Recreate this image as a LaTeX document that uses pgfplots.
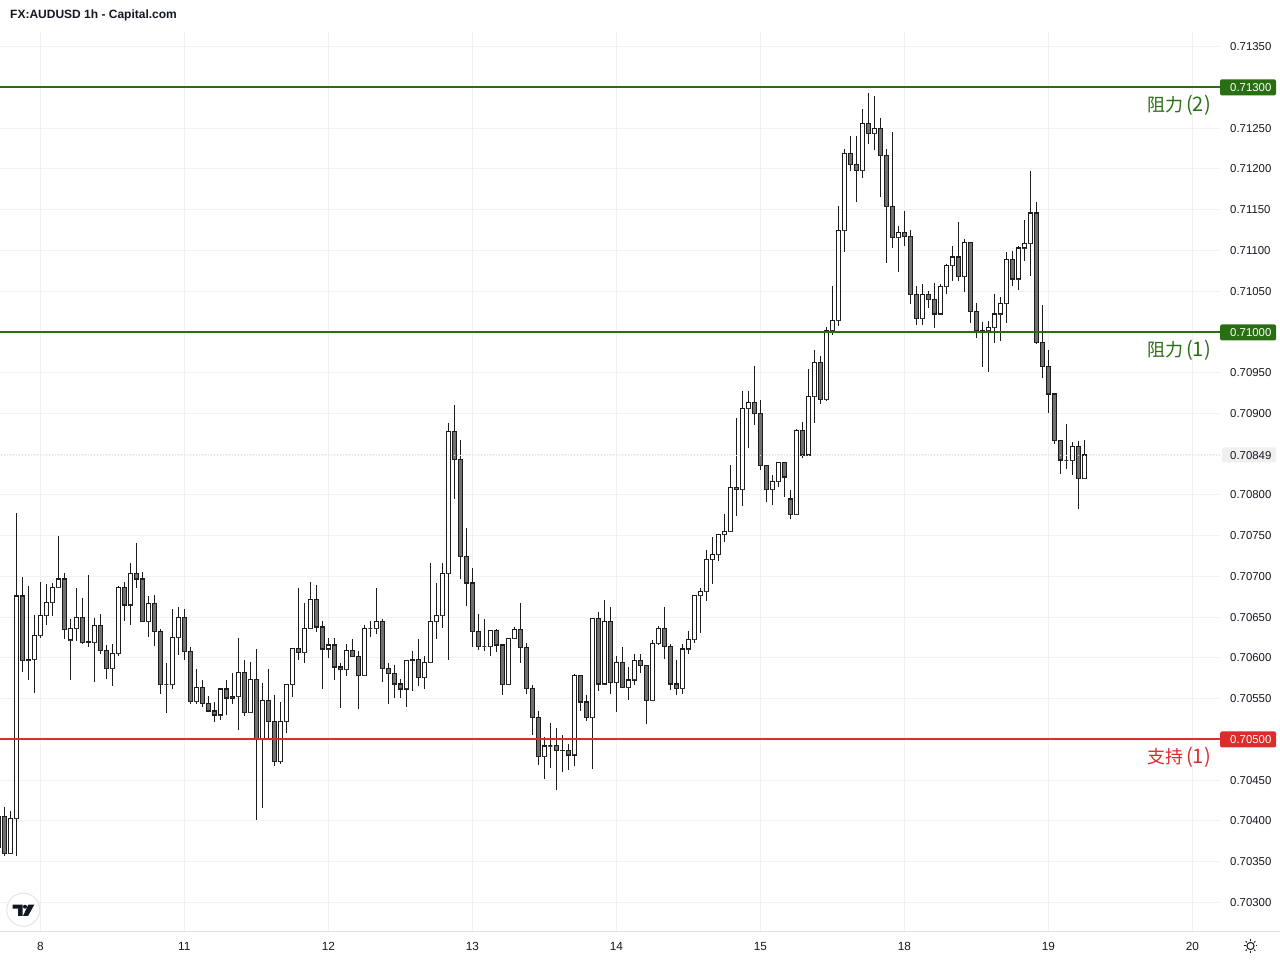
\documentclass[border=0pt]{standalone}
\usepackage{fontspec}
\usepackage{pgfplots}
\pgfplotsset{compat=1.18}
\usepgfplotslibrary{statistics}
\setmainfont{Liberation Sans}
\newfontfamily\cjk{Noto Sans CJK SC}
\definecolor{cgreen}{HTML}{2A6E14}
\definecolor{cred}{HTML}{DD2C2C}
\definecolor{cgrid}{HTML}{F1F1F4}
\definecolor{cdown}{HTML}{707070}
\definecolor{cedge}{HTML}{1C1C1C}
\definecolor{ctext}{HTML}{131722}
\newcommand{\cndU}[5]{\addplot[draw=cedge,fill=white,line width=1.15pt,boxplot prepared={draw position=#1,lower whisker=#4,lower quartile=#2,median=#2,upper quartile=#5,upper whisker=#3}] coordinates {};}
\newcommand{\cndD}[5]{\addplot[draw=cedge,fill=cdown,line width=1.15pt,boxplot prepared={draw position=#1,lower whisker=#4,lower quartile=#5,median=#5,upper quartile=#2,upper whisker=#3}] coordinates {};}
\begin{document}
\begin{tikzpicture}[x=1pt,y=1pt]
\path[use as bounding box] (0,0) rectangle (1280,960);
\fill[white] (0,0) rectangle (1280,960);
\begin{axis}[
  at={(0pt,28pt)}, anchor=south west, scale only axis, width=1220pt, height=900pt,
  xmin=-0.7222, xmax=202.611, ymin=0.702638, ymax=0.713681,
  axis line style={draw=none}, major tick length=0pt,
  xtick={6,30,54,78,102,126,150,174,198},
  xticklabels={8,11,12,13,14,15,18,19,20},
  ytick={0.7030,0.7035,0.7040,0.7045,0.7050,0.7055,0.7060,0.7065,0.7070,0.7075,0.7080,0.7085,0.7090,0.7095,0.7100,0.7105,0.7110,0.7115,0.7120,0.7125,0.7130,0.7135},
  yticklabels={0.70300,0.70350,0.70400,0.70450,{},0.70550,0.70600,0.70650,0.70700,0.70750,0.70800,{},0.70900,0.70950,{},0.71050,0.71100,0.71150,0.71200,0.71250,{},0.71350},
  ytick pos=right, yticklabel pos=right,
  yticklabel style={anchor=west,inner sep=0pt,xshift=10pt,font=\fontsize{11.4pt}{13pt}\selectfont,text=ctext},
  xticklabel style={anchor=center,inner sep=0pt,yshift=-14.4pt,font=\fontsize{11.8pt}{13pt}\selectfont,text=ctext},
  grid=major, grid style={draw=cgrid,line width=1pt},
  boxplot/draw direction=y, boxplot/box extend=0.667, boxplot/whisker extend=0,
  boxplot/every median/.style={draw=none},
]
\cndU{-1}{0.70368}{0.70416}{0.70357}{0.70406}
\cndD{0}{0.70405}{0.70417}{0.70357}{0.70360}
\cndU{1}{0.70360}{0.70412}{0.70360}{0.70403}
\cndU{2}{0.70403}{0.70778}{0.70357}{0.70676}
\cndD{3}{0.70676}{0.70699}{0.70583}{0.70597}
\cndD{4}{0.70598}{0.70688}{0.70573}{0.70597}
\cndU{5}{0.70598}{0.70653}{0.70557}{0.70628}
\cndU{6}{0.70628}{0.70693}{0.70624}{0.70652}
\cndU{7}{0.70652}{0.70691}{0.70640}{0.70668}
\cndU{8}{0.70668}{0.70692}{0.70652}{0.70686}
\cndU{9}{0.70686}{0.70750}{0.70686}{0.70697}
\cndD{10}{0.70697}{0.70704}{0.70623}{0.70635}
\cndU{11}{0.70622}{0.70648}{0.70573}{0.70636}
\cndU{12}{0.70636}{0.70686}{0.70621}{0.70650}
\cndD{13}{0.70650}{0.70674}{0.70618}{0.70619}
\cndD{14}{0.70620}{0.70702}{0.70614}{0.70619}
\cndU{15}{0.70619}{0.70649}{0.70570}{0.70640}
\cndD{16}{0.70640}{0.70654}{0.70605}{0.70609}
\cndD{17}{0.70609}{0.70616}{0.70574}{0.70587}
\cndU{18}{0.70587}{0.70617}{0.70566}{0.70605}
\cndU{19}{0.70605}{0.70688}{0.70602}{0.70686}
\cndD{20}{0.70686}{0.70693}{0.70646}{0.70665}
\cndU{21}{0.70665}{0.70716}{0.70641}{0.70704}
\cndD{22}{0.70704}{0.70741}{0.70686}{0.70697}
\cndD{23}{0.70697}{0.70706}{0.70645}{0.70645}
\cndU{24}{0.70645}{0.70676}{0.70626}{0.70667}
\cndD{25}{0.70667}{0.70677}{0.70615}{0.70632}
\cndD{26}{0.70632}{0.70636}{0.70556}{0.70567}
\cndU{27}{0.70567}{0.70594}{0.70533}{0.70567}
\cndU{28}{0.70567}{0.70660}{0.70562}{0.70625}
\cndU{29}{0.70625}{0.70663}{0.70604}{0.70650}
\cndD{30}{0.70650}{0.70660}{0.70598}{0.70608}
\cndD{31}{0.70608}{0.70613}{0.70543}{0.70547}
\cndU{32}{0.70547}{0.70586}{0.70544}{0.70564}
\cndD{33}{0.70564}{0.70573}{0.70540}{0.70544}
\cndD{34}{0.70544}{0.70553}{0.70535}{0.70535}
\cndD{35}{0.70535}{0.70546}{0.70521}{0.70530}
\cndU{36}{0.70530}{0.70562}{0.70524}{0.70562}
\cndD{37}{0.70562}{0.70573}{0.70530}{0.70551}
\cndU{38}{0.70551}{0.70582}{0.70544}{0.70553}
\cndU{39}{0.70553}{0.70624}{0.70512}{0.70582}
\cndD{40}{0.70582}{0.70598}{0.70529}{0.70533}
\cndU{41}{0.70533}{0.70595}{0.70533}{0.70574}
\cndD{42}{0.70574}{0.70611}{0.70401}{0.70501}
\cndU{43}{0.70501}{0.70569}{0.70416}{0.70548}
\cndD{44}{0.70548}{0.70586}{0.70501}{0.70522}
\cndD{45}{0.70522}{0.70555}{0.70468}{0.70473}
\cndU{46}{0.70473}{0.70546}{0.70470}{0.70522}
\cndU{47}{0.70522}{0.70568}{0.70508}{0.70567}
\cndU{48}{0.70567}{0.70612}{0.70552}{0.70612}
\cndD{49}{0.70612}{0.70686}{0.70598}{0.70607}
\cndU{50}{0.70607}{0.70668}{0.70594}{0.70636}
\cndU{51}{0.70636}{0.70693}{0.70636}{0.70672}
\cndD{52}{0.70672}{0.70690}{0.70632}{0.70638}
\cndD{53}{0.70638}{0.70646}{0.70562}{0.70611}
\cndU{54}{0.70611}{0.70625}{0.70600}{0.70616}
\cndD{55}{0.70616}{0.70624}{0.70573}{0.70589}
\cndD{56}{0.70589}{0.70594}{0.70539}{0.70586}
\cndU{57}{0.70586}{0.70617}{0.70578}{0.70609}
\cndD{58}{0.70609}{0.70623}{0.70602}{0.70602}
\cndD{59}{0.70602}{0.70609}{0.70537}{0.70578}
\cndU{60}{0.70578}{0.70640}{0.70578}{0.70636}
\cndU{61}{0.70636}{0.70645}{0.70626}{0.70636}
\cndU{62}{0.70636}{0.70686}{0.70630}{0.70645}
\cndD{63}{0.70645}{0.70648}{0.70571}{0.70587}
\cndD{64}{0.70587}{0.70594}{0.70543}{0.70581}
\cndD{65}{0.70581}{0.70592}{0.70551}{0.70568}
\cndD{66}{0.70568}{0.70574}{0.70551}{0.70562}
\cndU{67}{0.70562}{0.70598}{0.70540}{0.70597}
\cndD{68}{0.70598}{0.70609}{0.70559}{0.70597}
\cndD{69}{0.70598}{0.70623}{0.70566}{0.70576}
\cndU{70}{0.70576}{0.70602}{0.70562}{0.70594}
\cndU{71}{0.70594}{0.70716}{0.70594}{0.70645}
\cndU{72}{0.70645}{0.70692}{0.70623}{0.70652}
\cndU{73}{0.70652}{0.70716}{0.70637}{0.70704}
\cndU{74}{0.70704}{0.70888}{0.70598}{0.70878}
\cndD{75}{0.70878}{0.70911}{0.70795}{0.70844}
\cndD{76}{0.70844}{0.70868}{0.70697}{0.70725}
\cndD{77}{0.70725}{0.70759}{0.70664}{0.70692}
\cndD{78}{0.70692}{0.70711}{0.70614}{0.70632}
\cndD{79}{0.70632}{0.70654}{0.70610}{0.70614}
\cndU{80}{0.70614}{0.70648}{0.70608}{0.70614}
\cndU{81}{0.70614}{0.70634}{0.70602}{0.70634}
\cndD{82}{0.70634}{0.70636}{0.70607}{0.70616}
\cndD{83}{0.70616}{0.70616}{0.70554}{0.70567}
\cndU{84}{0.70567}{0.70625}{0.70567}{0.70624}
\cndU{85}{0.70624}{0.70638}{0.70623}{0.70635}
\cndD{86}{0.70635}{0.70667}{0.70594}{0.70613}
\cndD{87}{0.70613}{0.70618}{0.70556}{0.70563}
\cndD{88}{0.70563}{0.70567}{0.70505}{0.70527}
\cndD{89}{0.70527}{0.70535}{0.70469}{0.70479}
\cndU{90}{0.70479}{0.70503}{0.70452}{0.70492}
\cndU{91}{0.70492}{0.70520}{0.70465}{0.70492}
\cndD{92}{0.70493}{0.70514}{0.70438}{0.70487}
\cndD{93}{0.70487}{0.70505}{0.70460}{0.70486}
\cndD{94}{0.70486}{0.70495}{0.70463}{0.70481}
\cndU{95}{0.70481}{0.70580}{0.70467}{0.70578}
\cndD{96}{0.70578}{0.70578}{0.70535}{0.70546}
\cndD{97}{0.70546}{0.70555}{0.70523}{0.70527}
\cndU{98}{0.70527}{0.70649}{0.70464}{0.70648}
\cndD{99}{0.70648}{0.70657}{0.70560}{0.70568}
\cndU{100}{0.70568}{0.70671}{0.70568}{0.70645}
\cndD{101}{0.70645}{0.70662}{0.70556}{0.70570}
\cndU{102}{0.70570}{0.70602}{0.70534}{0.70594}
\cndD{103}{0.70594}{0.70613}{0.70563}{0.70564}
\cndU{104}{0.70564}{0.70589}{0.70548}{0.70573}
\cndU{105}{0.70573}{0.70605}{0.70567}{0.70597}
\cndD{106}{0.70597}{0.70605}{0.70582}{0.70591}
\cndD{107}{0.70591}{0.70591}{0.70519}{0.70548}
\cndU{108}{0.70548}{0.70622}{0.70548}{0.70618}
\cndU{109}{0.70618}{0.70639}{0.70616}{0.70636}
\cndD{110}{0.70636}{0.70662}{0.70599}{0.70614}
\cndD{111}{0.70614}{0.70617}{0.70561}{0.70568}
\cndD{112}{0.70568}{0.70598}{0.70554}{0.70563}
\cndU{113}{0.70563}{0.70617}{0.70556}{0.70611}
\cndU{114}{0.70611}{0.70633}{0.70605}{0.70623}
\cndU{115}{0.70623}{0.70677}{0.70618}{0.70677}
\cndU{116}{0.70677}{0.70686}{0.70631}{0.70682}
\cndU{117}{0.70682}{0.70732}{0.70670}{0.70721}
\cndU{118}{0.70721}{0.70749}{0.70691}{0.70727}
\cndU{119}{0.70727}{0.70752}{0.70719}{0.70751}
\cndU{120}{0.70751}{0.70777}{0.70742}{0.70755}
\cndU{121}{0.70755}{0.70837}{0.70755}{0.70809}
\cndD{122}{0.70809}{0.70895}{0.70774}{0.70807}
\cndU{123}{0.70807}{0.70927}{0.70787}{0.70906}
\cndU{124}{0.70906}{0.70927}{0.70858}{0.70913}
\cndD{125}{0.70913}{0.70958}{0.70886}{0.70900}
\cndD{126}{0.70900}{0.70917}{0.70831}{0.70836}
\cndD{127}{0.70836}{0.70836}{0.70791}{0.70807}
\cndU{128}{0.70807}{0.70825}{0.70788}{0.70817}
\cndU{129}{0.70817}{0.70841}{0.70810}{0.70840}
\cndD{130}{0.70840}{0.70841}{0.70798}{0.70822}
\cndD{131}{0.70795}{0.70806}{0.70770}{0.70776}
\cndU{132}{0.70776}{0.70881}{0.70776}{0.70879}
\cndD{133}{0.70879}{0.70889}{0.70845}{0.70849}
\cndU{134}{0.70849}{0.70954}{0.70849}{0.70921}
\cndU{135}{0.70921}{0.70978}{0.70888}{0.70963}
\cndD{136}{0.70963}{0.70971}{0.70912}{0.70917}
\cndU{137}{0.70917}{0.71006}{0.70915}{0.71002}
\cndU{138}{0.71002}{0.71057}{0.70996}{0.71014}
\cndU{139}{0.71014}{0.71154}{0.71007}{0.71125}
\cndU{140}{0.71125}{0.71225}{0.71098}{0.71219}
\cndD{141}{0.71219}{0.71240}{0.71198}{0.71205}
\cndD{142}{0.71205}{0.71240}{0.71159}{0.71198}
\cndU{143}{0.71198}{0.71274}{0.71189}{0.71256}
\cndD{144}{0.71256}{0.71293}{0.71231}{0.71244}
\cndU{145}{0.71244}{0.71289}{0.71223}{0.71250}
\cndD{146}{0.71250}{0.71263}{0.71166}{0.71217}
\cndD{147}{0.71217}{0.71225}{0.71085}{0.71154}
\cndD{148}{0.71154}{0.71245}{0.71103}{0.71116}
\cndU{149}{0.71116}{0.71130}{0.71073}{0.71122}
\cndD{150}{0.71122}{0.71149}{0.71105}{0.71117}
\cndD{151}{0.71117}{0.71125}{0.71034}{0.71046}
\cndD{152}{0.71046}{0.71056}{0.71009}{0.71017}
\cndU{153}{0.71017}{0.71059}{0.71009}{0.71046}
\cndD{154}{0.71046}{0.71050}{0.71030}{0.71040}
\cndD{155}{0.71040}{0.71060}{0.71005}{0.71022}
\cndU{156}{0.71022}{0.71059}{0.71022}{0.71056}
\cndU{157}{0.71056}{0.71083}{0.71047}{0.71082}
\cndU{158}{0.71082}{0.71106}{0.71063}{0.71092}
\cndD{159}{0.71092}{0.71135}{0.71063}{0.71068}
\cndU{160}{0.71068}{0.71114}{0.71049}{0.71110}
\cndD{161}{0.71110}{0.71111}{0.71011}{0.71025}
\cndD{162}{0.71025}{0.71035}{0.70993}{0.71002}
\cndD{163}{0.71002}{0.71012}{0.70957}{0.71001}
\cndU{164}{0.71002}{0.71013}{0.70951}{0.71005}
\cndU{165}{0.71005}{0.71046}{0.70987}{0.71022}
\cndU{166}{0.71022}{0.71043}{0.70989}{0.71035}
\cndU{167}{0.71035}{0.71098}{0.71011}{0.71089}
\cndD{168}{0.71089}{0.71099}{0.71057}{0.71065}
\cndU{169}{0.71065}{0.71105}{0.71052}{0.71103}
\cndU{170}{0.71103}{0.71138}{0.71087}{0.71109}
\cndU{171}{0.71109}{0.71197}{0.71069}{0.71146}
\cndD{172}{0.71146}{0.71159}{0.70985}{0.70987}
\cndD{173}{0.70987}{0.71033}{0.70943}{0.70958}
\cndD{174}{0.70958}{0.70978}{0.70901}{0.70924}
\cndD{175}{0.70924}{0.70925}{0.70863}{0.70867}
\cndD{176}{0.70867}{0.70868}{0.70826}{0.70843}
\cndU{177}{0.70842}{0.70887}{0.70832}{0.70842}
\cndU{178}{0.70842}{0.70865}{0.70824}{0.70859}
\cndD{179}{0.70859}{0.70866}{0.70783}{0.70820}
\cndU{180}{0.70820}{0.70868}{0.70820}{0.70849}
\addplot[draw=cgreen,line width=2pt] coordinates {(-1,0.71300)(203,0.71300)};
\addplot[draw=cgreen,line width=2pt] coordinates {(-1,0.71000)(203,0.71000)};
\addplot[draw=cred,line width=2pt] coordinates {(-1,0.70500)(203,0.70500)};
\addplot[draw=white!88!black,line width=1pt,dash pattern=on 1pt off 2pt] coordinates {(-1,0.70849)(203,0.70849)};
\end{axis}
% bottom rule
\draw[draw=black!12,line width=1pt] (0,28) -- (1280,28);
% title
\node[anchor=west,inner sep=0pt,text=ctext,font=\bfseries\fontsize{12pt}{14pt}\selectfont] at (10,944.5) {FX:AUDUSD 1h - Capital.com};
% price tags
\fill[cgreen,rounded corners=1.5pt] (1220,880.5) rectangle (1276,864.5);
\node[anchor=west,inner sep=0pt,text=white,font=\fontsize{11.4pt}{13pt}\selectfont] at (1230,872.5) {0.71300};
\fill[cgreen,rounded corners=1.5pt] (1220,635.5) rectangle (1276,619.5);
\node[anchor=west,inner sep=0pt,text=white,font=\fontsize{11.4pt}{13pt}\selectfont] at (1230,627.5) {0.71000};
\fill[cred,rounded corners=1.5pt] (1220,228.5) rectangle (1276,212.5);
\node[anchor=west,inner sep=0pt,text=white,font=\fontsize{11.4pt}{13pt}\selectfont] at (1230,220.5) {0.70500};
\fill[black!6,rounded corners=1.5pt] (1222,512.5) rectangle (1276,497.5);
\node[anchor=west,inner sep=0pt,text=ctext,font=\fontsize{11.4pt}{13pt}\selectfont] at (1230,504.6) {0.70849};
% level labels
\node[anchor=west,inner sep=0pt,text=cgreen,font=\cjk\fontsize{18pt}{20pt}\selectfont] at (1147,854.5) {阻力\hspace{3pt}{\fontsize{20pt}{20pt}\selectfont(2)}};
\node[anchor=west,inner sep=0pt,text=cgreen,font=\cjk\fontsize{18pt}{20pt}\selectfont] at (1147,609.5) {阻力\hspace{3pt}{\fontsize{20pt}{20pt}\selectfont(1)}};
\node[anchor=west,inner sep=0pt,text=cred,font=\cjk\fontsize{18pt}{20pt}\selectfont] at (1147,202.5) {支持\hspace{3pt}{\fontsize{20pt}{20pt}\selectfont(1)}};
% logo
\fill[white] (23.3,50.3) circle (16.5);
\draw[black!10,line width=1pt] (23.3,50.3) circle (16.5);
\fill[ctext] (12.7,55.3) -- (22.7,55.3) -- (22.7,44) -- (18,44) -- (18,51.3) -- (12.7,51.3) -- cycle;
\fill[ctext] (25,53.3) circle (2);
\fill[ctext] (28.3,55.3) -- (34.3,55.3) -- (28,44) -- (23,44) -- cycle;
% settings icon
\draw[ctext,line width=1pt] (1250.5,14) circle (3.6);
\foreach \a in {0,45,...,315}{\draw[ctext,line width=1pt] (1250.5,14)++(\a:5) -- ++(\a:1.8);}
\end{tikzpicture}
\end{document}
